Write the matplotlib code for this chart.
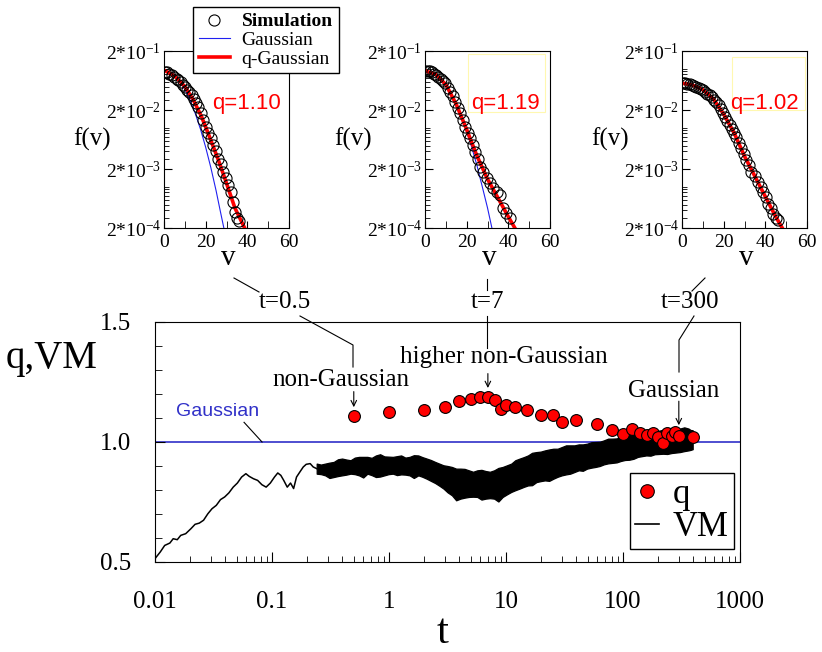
import matplotlib
matplotlib.use('Agg')
import matplotlib.pyplot as plt
from matplotlib.lines import Line2D
from matplotlib.patches import Rectangle
from matplotlib.ticker import LogLocator, MultipleLocator, FixedLocator, NullFormatter

plt.rcParams['font.family'] = ['Liberation Serif', 'DejaVu Serif']
plt.rcParams['mathtext.fontset'] = 'custom'
plt.rcParams['mathtext.rm'] = 'Liberation Serif'
plt.rcParams['mathtext.default'] = 'rm'

# ---- main panel data: q(t) and VM(t)
q_t = [0.5, 1, 2, 3, 4, 5, 6, 7, 8, 9, 10, 12, 15, 20, 25, 30, 40, 60, 80, 100,
       120, 140, 160, 180, 200, 220, 240, 260, 280, 300, 400]
q_val = [1.107, 1.125, 1.133, 1.144, 1.169, 1.179, 1.186, 1.189, 1.173, 1.139, 1.156,
         1.144, 1.132, 1.111, 1.111, 1.083, 1.093, 1.075, 1.052, 1.032, 1.056, 1.038,
         1.031, 1.038, 1.022, 0.995, 1.038, 1.027, 1.041, 1.024, 1.021]

vm_t = [0.0100, 0.0111, 0.0121, 0.0134, 0.0143, 0.0155, 0.0166, 0.0183, 0.0203, 0.0220,
        0.0239, 0.0260, 0.0283, 0.0307, 0.0334, 0.0363, 0.0394, 0.0428, 0.0466, 0.0506,
        0.0550, 0.0598, 0.0638, 0.0694, 0.0754, 0.0820, 0.0891, 0.0968, 0.105, 0.112,
        0.119, 0.126, 0.135, 0.144, 0.153, 0.162, 0.173, 0.185, 0.196, 0.212, 0.225, 0.241]
vm_val = [0.514, 0.542, 0.569, 0.579, 0.597, 0.593, 0.611, 0.618, 0.639, 0.657,
          0.662, 0.674, 0.701, 0.722, 0.736, 0.760, 0.771, 0.788, 0.812, 0.829,
          0.854, 0.868, 0.857, 0.847, 0.840, 0.822, 0.812, 0.829, 0.854, 0.871,
          0.861, 0.840, 0.812, 0.829, 0.806, 0.854, 0.875, 0.896, 0.907, 0.910, 0.896, 0.889]

# noisy part of VM: upper / lower edge of the fluctuation band
band_t = [0.241, 0.262, 0.285, 0.310, 0.337, 0.366, 0.397, 0.432, 0.469, 0.510, 0.554,
          0.602, 0.654, 0.711, 0.773, 0.840, 0.913, 0.993, 1.08, 1.17, 1.27, 1.38, 1.50,
          1.63, 1.78, 1.93, 2.10, 2.28, 2.48, 2.69, 2.92, 3.17, 3.45, 3.75, 4.08, 4.43,
          4.81, 5.23, 5.68, 6.17, 6.71, 7.29, 7.92, 8.61, 9.36, 10.2, 11.1, 12.0, 13.1,
          14.2, 15.4, 16.7, 18.2, 19.8, 21.5, 23.4, 25.4, 27.6, 30.0, 32.6, 35.4, 38.5,
          41.8, 45.4, 49.3, 53.6, 58.2, 63.3, 68.8, 74.7, 81.2, 88.2, 95.9, 104, 113, 123,
          134, 145, 158, 172, 187, 203, 220, 239, 260, 283, 307, 334, 363, 378, 394]
band_hi = [0.910, 0.906, 0.910, 0.914, 0.917, 0.928, 0.931, 0.927, 0.924, 0.935, 0.938,
           0.938, 0.938, 0.934, 0.944, 0.949, 0.940, 0.939, 0.938, 0.941, 0.944, 0.935,
           0.938, 0.945, 0.944, 0.937, 0.931, 0.925, 0.917, 0.910, 0.903, 0.900, 0.896,
           0.889, 0.889, 0.888, 0.882, 0.876, 0.882, 0.884, 0.879, 0.876, 0.882, 0.892,
           0.896, 0.903, 0.910, 0.924, 0.931, 0.937, 0.944, 0.955, 0.958, 0.960, 0.965,
           0.969, 0.972, 0.972, 0.979, 0.986, 0.986, 0.986, 0.990, 0.990, 0.993, 0.999,
           1.000, 1.001, 1.007, 1.014, 1.014, 1.015, 1.021, 1.022, 1.028, 1.034, 1.035,
           1.036, 1.042, 1.050, 1.046, 1.047, 1.051, 1.058, 1.056, 1.054, 1.056, 1.061,
           1.056, 1.050, 1.049]
band_lo = [0.868, 0.866, 0.861, 0.850, 0.854, 0.858, 0.861, 0.864, 0.868, 0.866, 0.861,
           0.852, 0.868, 0.862, 0.854, 0.856, 0.861, 0.866, 0.868, 0.862, 0.865, 0.864,
           0.861, 0.850, 0.861, 0.855, 0.847, 0.838, 0.829, 0.818, 0.806, 0.790, 0.778,
           0.757, 0.764, 0.768, 0.771, 0.772, 0.771, 0.760, 0.764, 0.766, 0.764, 0.752,
           0.771, 0.782, 0.792, 0.799, 0.806, 0.813, 0.819, 0.820, 0.833, 0.837, 0.840,
           0.838, 0.847, 0.855, 0.861, 0.865, 0.868, 0.875, 0.882, 0.880, 0.889, 0.893,
           0.896, 0.900, 0.907, 0.911, 0.913, 0.915, 0.921, 0.925, 0.926, 0.930, 0.938,
           0.941, 0.944, 0.943, 0.949, 0.950, 0.951, 0.950, 0.954, 0.956, 0.958, 0.962,
           0.965, 0.967, 0.970]

# ---- inset data: f(v) at t=0.5, 7, 300
sim_v_1 = [0.5, 1.5, 2.5, 3.7, 5.0, 6.0, 6.9, 8.0, 9.0, 10.0, 11.2, 12.2, 13.3, 14.4, 15.5,
           16.5, 17.7, 18.9, 20.1, 21.3, 22.5, 23.7, 24.9, 26.1, 27.3, 28.5, 29.7, 30.9,
           32.0, 33.0, 34.1, 35.0, 36.2]
sim_f_1 = [0.089, 0.087, 0.083, 0.078, 0.072, 0.068, 0.0645, 0.059, 0.054, 0.0497, 0.044,
           0.040, 0.0359, 0.031, 0.026, 0.0228, 0.018, 0.0135, 0.0105, 0.0080, 0.0066,
           0.0051, 0.0040, 0.0030, 0.0024, 0.0018, 0.0014, 0.00107, 0.00080, 0.00056,
           0.00038, 0.00030, 0.00026]
gau_v_1 = [0, 5, 10, 12.5, 15, 17.5, 20, 22.5, 25, 27, 29]
gau_f_1 = [0.095, 0.0787, 0.0448, 0.0293, 0.0175, 0.0095, 0.00468, 0.0021, 0.00086, 0.00039, 0.00018]
qg_v_1 = [0, 5, 10, 14, 18, 22, 26, 30, 34, 39]
qg_f_1 = [0.095, 0.076, 0.050, 0.030, 0.0155, 0.0068, 0.0029, 0.00115, 0.00044, 0.00019]

sim_v_2 = [0.0, 1.2, 2.2, 3.2, 4.3, 5.4, 6.4, 7.5, 8.5, 9.6, 10.8, 12.0, 13.2, 14.4, 15.6,
           16.8, 18.0, 19.2, 20.4, 21.6, 22.8, 24.0, 25.2, 26.4, 28.0, 29.6, 31.2, 32.8,
           34.4, 36.0, 37.6, 39.0, 40.8]
sim_f_2 = [0.0916, 0.0915, 0.090, 0.089, 0.083, 0.078, 0.073, 0.067, 0.062, 0.0566, 0.048,
           0.0409, 0.034, 0.0277, 0.022, 0.0176, 0.0135, 0.0104, 0.0083, 0.00663, 0.0051,
           0.00393, 0.0029, 0.00219, 0.00175, 0.00139, 0.00115, 0.00094, 0.00082, 0.00072,
           0.00043, 0.00036, 0.00029]
gau_v_2 = [0, 5, 10, 12.5, 15, 17.5, 20, 22.5, 25, 27.5, 30, 32.5]
gau_f_2 = [0.092, 0.0793, 0.0508, 0.0363, 0.0242, 0.0149, 0.00855, 0.0046, 0.00225, 0.0010, 0.00044, 0.000173]
qg_v_2 = [0, 5, 10, 15, 20, 25, 30, 35, 40, 43.5]
qg_f_2 = [0.092, 0.081, 0.054, 0.025, 0.0093, 0.0033, 0.00135, 0.00065, 0.00031, 0.00019]

sim_v_3 = [0.5, 1.5, 2.6, 3.7, 4.8, 5.9, 6.9, 8.0, 9.0, 10.1, 11.2, 12.2, 13.3, 14.4, 15.5,
           16.5, 17.6, 18.6, 19.7, 20.8, 21.8, 22.9, 24.0, 25.0, 26.1, 27.3, 28.5, 29.7,
           30.9, 32.1, 33.3, 34.9, 36.5, 37.7, 38.9, 40.1, 41.3, 42.5, 43.7, 44.9, 46.1]
sim_f_3 = [0.0567, 0.0563, 0.0556, 0.0546, 0.053, 0.0513, 0.0497, 0.047, 0.0455, 0.0437,
           0.041, 0.038, 0.0359, 0.033, 0.030, 0.0277, 0.024, 0.0205, 0.0176, 0.0155, 0.013,
           0.0111, 0.0095, 0.0082, 0.00707, 0.0056, 0.00449, 0.0036, 0.00285, 0.0023, 0.0018,
           0.0015, 0.00122, 0.0010, 0.00083, 0.00066, 0.00052, 0.00043, 0.00035, 0.00030, 0.00027]
qg_v_3 = [0, 5, 10, 15, 20, 25, 30, 35, 40, 45, 48.5]
qg_f_3 = [0.057, 0.053, 0.044, 0.031, 0.017, 0.0082, 0.0033, 0.0015, 0.00068, 0.00031, 0.00019]

q_labels = ['q=1.10', 'q=1.19', 'q=1.02']

W, H = 822, 652
def px(x, y):
    return (x / W, 1 - y / H)

fig = plt.figure(figsize=(8.22, 6.52), dpi=100)

# ---------------- main panel
ax = fig.add_axes([155 / W, 1 - 562 / H, 585 / W, 240 / H])
ax.set_xscale('log')
ax.set_xlim(0.01, 1000)
ax.set_ylim(0.5, 1.5)
ax.axhline(1.0, color='#3030c8', lw=1.2, zorder=1)
ax.plot(vm_t, vm_val, color='black', lw=1.1, zorder=2)
ax.fill_between(band_t, band_lo, band_hi, color='black', lw=0.9, zorder=2)
q_line, = ax.plot(q_t, q_val, 'o', ms=8.5, mfc='red', mec='black', mew=0.8, zorder=3, label='q')
vm_handle = Line2D([], [], color='black', lw=1.2, label='VM')

ax.set_xticks([0.01, 0.1, 1, 10, 100, 1000])
ax.set_xticklabels(['0.01', '0.1', '1', '10', '100', '1000'])
ax.xaxis.set_minor_locator(LogLocator(base=10, subs=range(2, 10), numticks=20))
ax.xaxis.set_minor_formatter(NullFormatter())
ax.set_yticks([0.5, 1.0, 1.5])
ax.set_yticklabels(['0.5', '1.0', '1.5'])
ax.yaxis.set_minor_locator(MultipleLocator(0.1))
ax.tick_params(which='both', direction='in', top=False, right=False)
ax.tick_params(axis='x', which='major', length=7, pad=21, labelsize=18)
ax.tick_params(axis='x', which='minor', length=4.5)
ax.tick_params(axis='y', which='major', length=7, pad=17, labelsize=18)
ax.tick_params(axis='y', which='minor', length=5)

leg = ax.legend(handles=[q_line, vm_handle], loc='lower right',
                bbox_to_anchor=(0.99, 0.054), borderaxespad=0, fontsize=25, frameon=True,
                fancybox=False, edgecolor='black', framealpha=1, handlelength=0.7,
                handletextpad=0.4, borderpad=0.15, labelspacing=0.0, markerscale=1.15)
leg.get_frame().set_linewidth(1.0)

fig.text(*px(52, 368), 'q,VM', fontsize=28, ha='center', va='baseline')
fig.text(*px(443, 643), 't', fontsize=31, ha='center', va='baseline')

# annotations inside main panel
ax.text(0.39, 1.257, 'non-Gaussian', fontsize=18, ha='center', va='center')
ax.text(9.6, 1.353, 'higher non-Gaussian', fontsize=18, ha='center', va='center')
ax.text(270, 1.212, 'Gaussian', fontsize=18, ha='center', va='center')
ax.text(0.034, 1.127, 'Gaussian', fontsize=14, ha='center', va='center',
        color='#3030c8', family='Liberation Sans')
ax.plot([0.0577, 0.0822], [1.082, 1.0], color='black', lw=0.8)
arrow = dict(arrowstyle='->', lw=0.8, color='black', shrinkA=0, shrinkB=0, mutation_scale=10)
ax.annotate('', xy=(0.5, 1.145), xytext=(0.5, 1.21), arrowprops=arrow)
ax.annotate('', xy=(7, 1.225), xytext=(7, 1.285), arrowprops=arrow)
ax.annotate('', xy=(300, 1.07), xytext=(300, 1.17), arrowprops=arrow)

# connectors between insets and main panel (figure pixel positions)
def seg(points):
    xs = [px(x, y)[0] for x, y in points]
    ys = [px(x, y)[1] for x, y in points]
    fig.add_artist(Line2D(xs, ys, color='black', lw=0.8, transform=fig.transFigure))

seg([(234, 278), (259, 292)])
seg([(300, 316), (353, 345), (353, 367)])
seg([(487, 279), (487, 290)])
seg([(487, 316), (487, 348)])
seg([(705, 278), (692, 291)])
seg([(694, 316), (679, 340), (679, 372)])
fig.text(*px(285, 302), 't=0.5', fontsize=18, ha='center', va='center')
fig.text(*px(487, 302), 't=7', fontsize=18, ha='center', va='center')
fig.text(*px(690, 302), 't=300', fontsize=18, ha='center', va='center')

# ---------------- insets
inset_left = [164, 425, 682]
insets = [
    (sim_v_1, sim_f_1, gau_v_1, gau_f_1, qg_v_1, qg_f_1),
    (sim_v_2, sim_f_2, gau_v_2, gau_f_2, qg_v_2, qg_f_2),
    (sim_v_3, sim_f_3, None, None, qg_v_3, qg_f_3),
]
handles = None
for i, (sv, sf, gv, gf, qv, qf) in enumerate(insets):
    x0 = inset_left[i]
    ia = fig.add_axes([x0 / W, 1 - 228 / H, 125 / W, 177 / H])
    ia.set_yscale('log')
    ia.set_xlim(0, 60)
    ia.set_ylim(2e-4, 2e-1)
    h_q, = ia.plot(qv, qf, color='red', lw=2.6, zorder=2, label='q-Gaussian')
    if gv is not None:
        h_g, = ia.plot(gv, gf, color='#2020f0', lw=0.8, zorder=1, label='Gaussian')
    h_s, = ia.plot(sv, sf, 'o', ms=8, mfc='none', mec='black', mew=0.8, zorder=3,
                   label='Simulation')
    if i == 0:
        handles = [h_s, h_g, h_q]
    ia.yaxis.set_major_locator(FixedLocator([2e-4, 2e-3, 2e-2, 2e-1]))
    ia.set_yticklabels(['2*10$^{-4}$', '2*10$^{-3}$', '2*10$^{-2}$', '2*10$^{-1}$'])
    ia.yaxis.set_minor_locator(LogLocator(base=10, subs=[1, 3, 4, 5, 6, 7, 8, 9], numticks=20))
    ia.yaxis.set_minor_formatter(NullFormatter())
    ia.set_xticks([0, 20, 40, 60])
    ia.xaxis.set_minor_locator(MultipleLocator(10))
    ia.tick_params(which='both', direction='in', top=False, right=False, labelsize=14)
    ia.tick_params(axis='y', which='major', length=6, pad=2)
    ia.tick_params(axis='y', which='minor', length=3.5)
    ia.tick_params(axis='x', which='both', length=5, pad=4)
    fig.text(*px(x0 - 72, 146), 'f(v)', fontsize=18, ha='center', va='baseline')
    fig.text(*px(x0 + 64, 265), 'v', fontsize=21, ha='center', va='baseline')
    qx = [212, 471, 730][i]
    fig.text(*px(qx, 109), q_labels[i], fontsize=16, color='red',
             family='Liberation Sans', ha='left', va='baseline')

# faint yellow frames around q labels
for (xa, ya, xb, yb) in [(468, 54, 545, 112), (732, 57, 805, 110)]:
    fig.add_artist(Rectangle(px(xa, yb), (xb - xa) / W, (yb - ya) / H, fill=False,
                             edgecolor='#fff8b0', lw=0.8, transform=fig.transFigure))

ileg = fig.legend(handles=handles, loc='upper left', bbox_to_anchor=px(193, 7),
                  fontsize=14, frameon=True, fancybox=False, edgecolor='black',
                  framealpha=1, handlelength=1.6, handletextpad=0.6, borderpad=0.3,
                  labelspacing=0.05, borderaxespad=0)
ileg.get_frame().set_linewidth(1.0)
ileg.get_texts()[0].set_fontweight('bold')

fig.savefig('out.png', dpi=100)
